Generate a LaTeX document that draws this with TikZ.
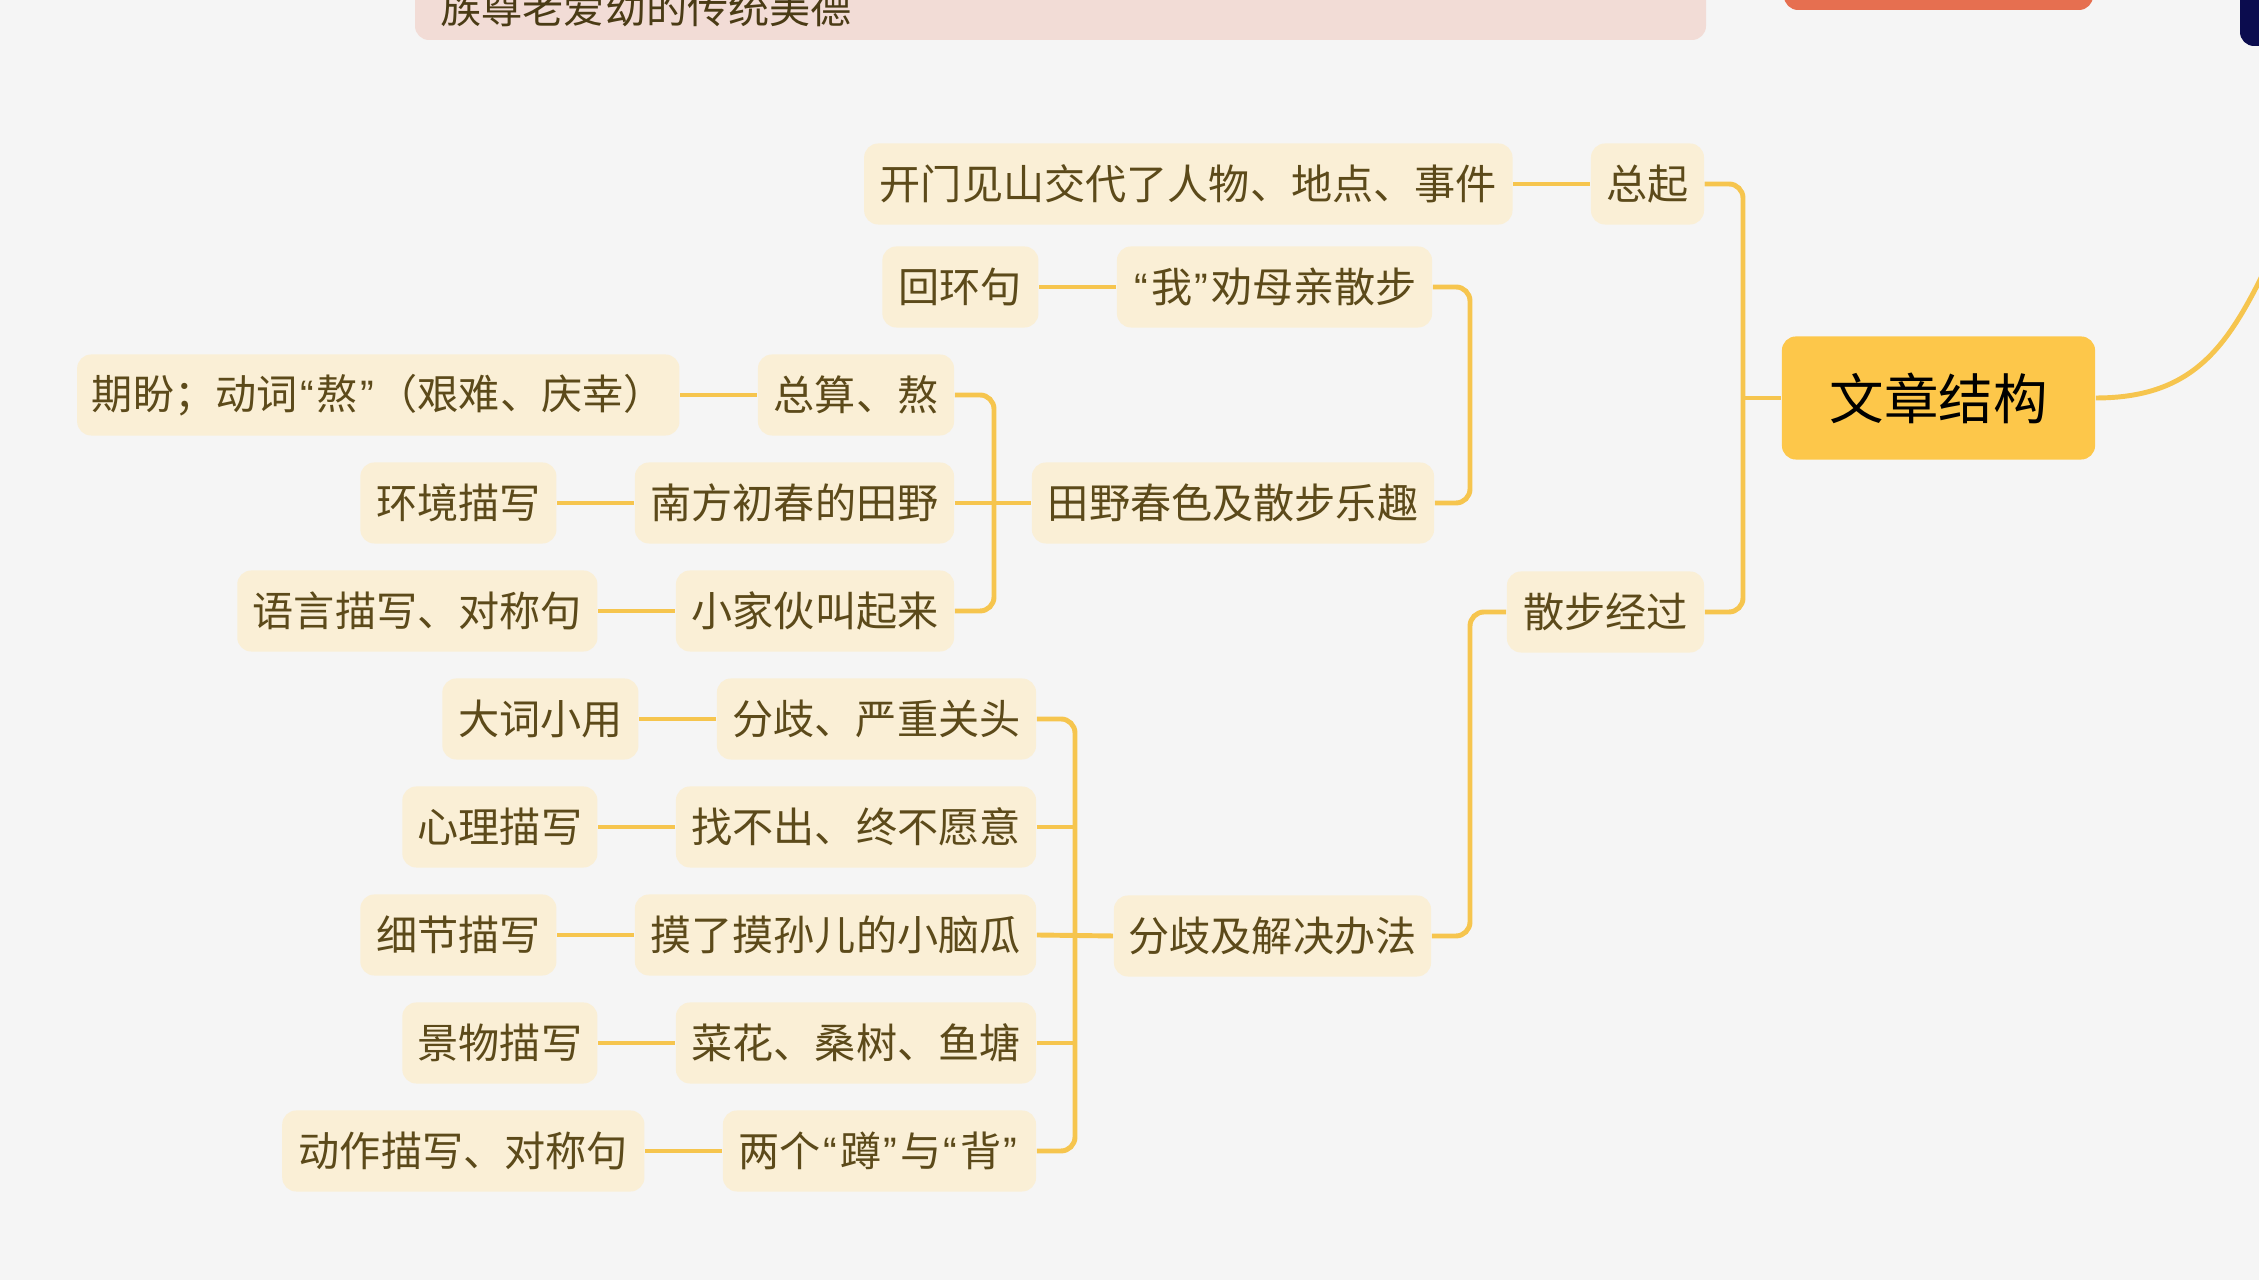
\documentclass[tikz,border=0pt]{standalone}
\usepackage{fontspec}
\setmainfont{Noto Sans CJK SC}
\newfontfamily\qfont{Liberation Sans}
\usetikzlibrary{positioning}
\definecolor{bgcol}{HTML}{F5F5F5}
\definecolor{linecol}{HTML}{F6C54E}
\definecolor{boxcol}{HTML}{FAEFD6}
\definecolor{rootcol}{HTML}{FDC74A}
\definecolor{textcol}{HTML}{5C4A1A}
\definecolor{pinkcol}{HTML}{F2DCD6}
\definecolor{tabcol}{HTML}{E66F50}
\definecolor{navycol}{HTML}{0B0C4E}
\newcommand\qt[1]{\makebox[0.46em][c]{\qfont “}#1\makebox[0.46em][c]{\qfont ”}}

\begin{document}
\begin{tikzpicture}[
	x=0.01cm,
	y=-0.01cm,
	node distance=0.77cm,
	box/.style={fill=boxcol, text=textcol, rounded corners=0.14cm, minimum height=0.81cm, minimum width=#1, inner xsep=0pt, font=\fontsize{11.7}{14}\selectfont},
	rootbox/.style={fill=rootcol, text=black, rounded corners=0.14cm, minimum width=3.13cm, minimum height=1.23cm, font=\fontsize{15.5}{18}\selectfont},
	conn/.style={draw=linecol, line width=1.4pt, rounded corners=0.14cm}
]
	\useasboundingbox (0,0) rectangle (2259,1280);
	\clip (0,0) rectangle (2259,1280);
	\fill[bgcol] (0,0) rectangle (2259,1280);

	\fill[pinkcol, rounded corners=0.14cm] (415,-60) rectangle (1706,40);
	\node[anchor=west, text=textcol!80!black, font=\fontsize{11.7}{14}\selectfont] (motto) at (428,8) {族尊老爱幼的传统美德};
	\fill[tabcol, rounded corners=0.14cm] (1784,-40) rectangle (2093,10);
	\fill[navycol, rounded corners=0.14cm] (2240,-40) rectangle (2300,46);

	\node[rootbox] (root) at (1938.5,398) {文章结构};
	\node[box=1.13cm] (zongqi) at (1647.5,184) {总起};
	\node[box=1.97cm] (sanbu) at (1605.5,612) {散步经过};

	\node[box=6.48cm, left=of zongqi] (kaimen) {开门见山交代了人物、地点、事件};

	\node[box=3.15cm] (wo) at (1274.5,287) {\qt{我}劝母亲散步};
	\node[box=1.56cm, left=of wo] (huihuan) {回环句};
	\node[box=4.02cm] (tianye) at (1233,503) {田野春色及散步乐趣};
	\node[box=3.17cm] (fenqi) at (1272.5,936) {分歧及解决办法};

	\node[box=1.96cm] (zongsuan) at (856,395) {总算、熬};
	\node[box=6.02cm, left=of zongsuan] (qipan) {期盼；动词\qt{熬}（艰难、庆幸）};
	\node[box=3.19cm] (nanfang) at (794.5,503) {南方初春的田野};
	\node[box=1.96cm, left=of nanfang] (huanjing) {环境描写};
	\node[box=2.78cm] (xiaojia) at (815,611) {小家伙叫起来};
	\node[box=3.60cm, left=of xiaojia] (yuyan) {语言描写、对称句};

	\node[box=3.19cm] (yanzhong) at (876.5,719) {分歧、严重关头};
	\node[box=1.96cm, left=of yanzhong] (daci) {大词小用};
	\node[box=3.60cm] (zhao) at (856,827) {找不出、终不愿意};
	\node[box=1.95cm, left=of zhao] (xinli) {心理描写};
	\node[box=4.01cm] (mole) at (835.5,935) {摸了摸孙儿的小脑瓜};
	\node[box=1.96cm, left=of mole] (xijie) {细节描写};
	\node[box=3.60cm] (caihua) at (856,1043) {菜花、桑树、鱼塘};
	\node[box=1.95cm, left=of caihua] (jingwu) {景物描写};
	\node[box=3.13cm] (liangge) at (879.5,1151) {两个\qt{蹲}与\qt{背}};
	\node[box=3.62cm, left=of liangge] (dongzuo) {动作描写、对称句};

	\coordinate (b1) at (1743,398);
	\coordinate (b2a) at (1470,503);
	\coordinate (b2b) at (1470,936);
	\coordinate (b3) at (994,503);
	\coordinate (b4) at (1075,936);

	\draw[conn] (zongqi.east) -| (b1) |- (sanbu.east);
	\draw[conn] (root.west) -- (b1);
	\draw[conn] (root.east) .. controls (2190,398) and (2225,350) .. (2262,276);
	\draw[conn] (wo.east) -| (b2a) -- (tianye.east);
	\draw[conn] (sanbu.west) -| (b2b) -- (fenqi.east);
	\draw[conn] (zongsuan.east) -| (b3) |- (xiaojia.east);
	\draw[conn] (nanfang.east) -- (tianye.west);
	\draw[conn] (yanzhong.east) -| (b4) |- (liangge.east);
	\draw[conn] (mole.east) -- (fenqi.west);
	\draw[conn] (zhao.east) -- (zhao.east -| b4);
	\draw[conn] (caihua.east) -- (caihua.east -| b4);

	\foreach \a/\b in {kaimen/zongqi, huihuan/wo, qipan/zongsuan, huanjing/nanfang, yuyan/xiaojia, daci/yanzhong, xinli/zhao, xijie/mole, jingwu/caihua, dongzuo/liangge}
		\draw[conn] (\a) -- (\b);
\end{tikzpicture}
\end{document}
